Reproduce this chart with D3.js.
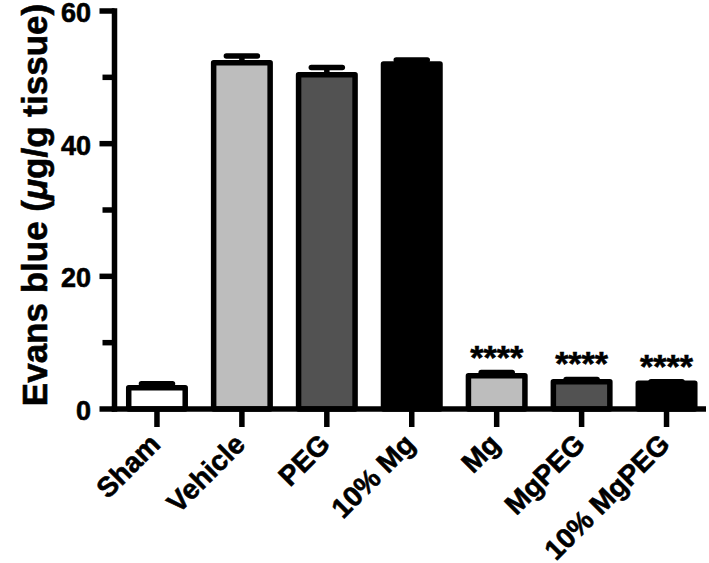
<!DOCTYPE html>
<html>
<head>
<meta charset="utf-8">
<script src="https://cdn.jsdelivr.net/npm/d3@7"></script>
<style>
  body { margin: 0; background: #fff; }
  svg { display: block; font-family: "Liberation Sans", Arial, Helvetica, sans-serif; font-weight: bold; }
  svg text { stroke: #000; stroke-width: 0.6px; }
</style>
</head>
<body>
<div class="svg-container"></div>
<script>

// groups on the x axis
var groups = ["Sham", "Vehicle", "PEG", "10% Mg", "Mg", "MgPEG", "10% MgPEG"];

// mean Evans blue per group (ug/g tissue)
var means = [3.2, 52.2, 50.4, 52.0, 5.0, 4.1, 3.9];

// error (upper bar only)
var errors = [0.6, 1.0, 1.1, 0.6, 0.5, 0.35, 0.2];

// fill of each bar
var fills = ["#ffffff", "#bdbdbd", "#525252", "#000000", "#bdbdbd", "#525252", "#000000"];

// significance marks
var stars = ["", "", "", "", "****", "****", "****"];

var yTicks = [0, 20, 40, 60];
var yMinor = [10, 30, 50];

var data = groups.map(function(g, i) {
  return {name: g, mean: means[i], err: errors[i], fill: fills[i], star: stars[i]};
});

var width = 709, height = 563;
var axisX = 114.5;
var lw = 5.5;

var svg = d3.select(".svg-container").append("svg")
  .attr("width", width)
  .attr("height", height);

// scales
var x = d3.scaleBand()
  .domain(groups)
  .range([axisX, 709])
  .paddingInner(0.27)
  .paddingOuter(0.135);

var y = d3.scaleLinear()
  .domain([0, 60])
  .range([409, 11]);

// bars
svg.selectAll(".bar")
  .data(data)
  .enter().append("rect")
  .attr("class", "bar")
  .attr("x", function(d) { return x(d.name) + lw / 2; })
  .attr("width", x.bandwidth() - lw)
  .attr("y", function(d) { return y(d.mean); })
  .attr("height", function(d) { return y(0) - y(d.mean); })
  .style("fill", function(d) { return d.fill; })
  .style("stroke", "#000")
  .style("stroke-width", lw)
  .style("stroke-linejoin", "round");

// error bars, only upwards with a cap half as wide as the bar
var eb = svg.selectAll(".err")
  .data(data)
  .enter().append("g")
  .attr("class", "err");

eb.append("line")
  .attr("x1", function(d) { return x(d.name) + x.bandwidth() / 2; })
  .attr("x2", function(d) { return x(d.name) + x.bandwidth() / 2; })
  .attr("y1", function(d) { return y(d.mean); })
  .attr("y2", function(d) { return y(d.mean + d.err); })
  .style("stroke", "#000")
  .style("stroke-width", lw);

eb.append("line")
  .attr("x1", function(d) { return x(d.name) + x.bandwidth() / 4; })
  .attr("x2", function(d) { return x(d.name) + x.bandwidth() * 3 / 4; })
  .attr("y1", function(d) { return y(d.mean + d.err); })
  .attr("y2", function(d) { return y(d.mean + d.err); })
  .style("stroke", "#000")
  .style("stroke-width", lw)
  .style("stroke-linecap", "round");

// asterisks above the treated groups
svg.selectAll(".star")
  .data(data.filter(function(d) { return d.star; }))
  .enter().append("text")
  .attr("class", "star")
  .attr("x", function(d) { return x(d.name) + x.bandwidth() / 2; })
  .attr("y", function(d) { return y(d.mean + d.err) - 4; })
  .attr("text-anchor", "middle")
  .style("font-size", "34px")
  .text(function(d) { return d.star; });

// y axis
var yAxis = svg.append("g").attr("class", "y-axis");

yAxis.append("line")
  .attr("x1", axisX).attr("x2", axisX)
  .attr("y1", y(0) + lw / 2).attr("y2", y(60) - lw / 2)
  .style("stroke", "#000")
  .style("stroke-width", lw);

yAxis.selectAll(".major")
  .data(yTicks)
  .enter().append("line")
  .attr("x1", axisX - 15).attr("x2", axisX)
  .attr("y1", function(d) { return y(d); })
  .attr("y2", function(d) { return y(d); })
  .style("stroke", "#000")
  .style("stroke-width", lw);

yAxis.selectAll(".minor")
  .data(yMinor)
  .enter().append("line")
  .attr("x1", axisX - 12).attr("x2", axisX)
  .attr("y1", function(d) { return y(d); })
  .attr("y2", function(d) { return y(d); })
  .style("stroke", "#000")
  .style("stroke-width", lw);

yAxis.selectAll("text")
  .data(yTicks)
  .enter().append("text")
  .attr("x", 91)
  .attr("y", function(d) { return y(d) + 1.5; })
  .attr("dy", "0.35em")
  .attr("text-anchor", "end")
  .style("font-size", "27px")
  .text(function(d) { return d; });

// y axis title
var ytitle = svg.append("text")
  .attr("transform", "translate(47,205) rotate(-90)")
  .attr("text-anchor", "middle")
  .style("font-size", "35px");
ytitle.append("tspan").text("Evans blue (");
ytitle.append("tspan").style("font-style", "italic").text("\u03bc");
ytitle.append("tspan").text("g/g tissue)");

// x axis
var xAxis = svg.append("g").attr("class", "x-axis");

xAxis.append("line")
  .attr("x1", axisX - lw / 2).attr("x2", 706)
  .attr("y1", y(0)).attr("y2", y(0))
  .style("stroke", "#000")
  .style("stroke-width", lw);

xAxis.selectAll(".tick")
  .data(groups)
  .enter().append("line")
  .attr("class", "tick")
  .attr("x1", function(d) { return x(d) + x.bandwidth() / 2; })
  .attr("x2", function(d) { return x(d) + x.bandwidth() / 2; })
  .attr("y1", y(0))
  .attr("y2", y(0) + 18)
  .style("stroke", "#000")
  .style("stroke-width", lw);

// rotated group labels, right end just under each tick
xAxis.selectAll(".label")
  .data(groups)
  .enter().append("text")
  .attr("class", "label")
  .attr("transform", function(d) {
    return "translate(" + (x(d) + x.bandwidth() / 2 - 2) + ",439) rotate(-45)";
  })
  .attr("dy", "0.35em")
  .attr("text-anchor", "end")
  .style("font-size", "28px")
  .text(function(d) { return d; });

</script>
</body>
</html>
